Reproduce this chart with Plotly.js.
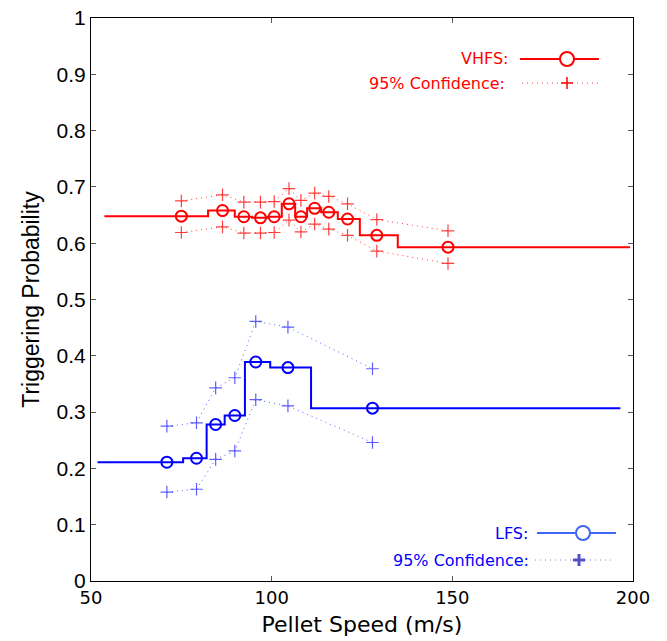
<!DOCTYPE html>
<html>
<head>
<meta charset="utf-8">
<script src="https://cdn.plot.ly/plotly-3.0.1.min.js"></script>
<style>html,body{margin:0;padding:0;background:#fff;}#chart{width:667px;height:641px;}</style>
</head>
<body>
<div id="chart"></div>
<script>
// VHFS data
const redEdges = [53.7, 82.4, 89.8, 94.6, 98.8, 102.8, 106.5, 109.8, 113.7, 118.3, 124.4, 134.9, 199.2];
const redProb  = [0.648, 0.658, 0.647, 0.645, 0.647, 0.670, 0.647, 0.662, 0.655, 0.643, 0.614, 0.593];
const redSpeed = [75.0, 86.4, 92.3, 96.9, 100.7, 104.8, 108.1, 111.9, 115.8, 121.0, 129.1, 148.8];
const redUpper = [0.675, 0.686, 0.673, 0.673, 0.674, 0.697, 0.676, 0.689, 0.683, 0.670, 0.642, 0.622];
const redLower = [0.619, 0.629, 0.618, 0.618, 0.619, 0.641, 0.620, 0.634, 0.625, 0.614, 0.586, 0.564];

// LFS data
const blueEdges = [51.8, 75.5, 82.0, 87.0, 92.6, 99.6, 110.9, 196.5];
const blueProb  = [0.211, 0.218, 0.278, 0.294, 0.389, 0.379, 0.307];
const blueSpeed = [71.0, 79.2, 84.5, 89.8, 95.6, 104.5, 127.9];
const blueUpper = [0.275, 0.281, 0.343, 0.361, 0.461, 0.451, 0.377];
const blueLower = [0.158, 0.163, 0.216, 0.231, 0.322, 0.311, 0.246];

const xTicks = [50, 100, 150, 200];
const yTicks = [0, 0.1, 0.2, 0.3, 0.4, 0.5, 0.6, 0.7, 0.8, 0.9, 1];

const RED = '#ff0000', BLUE = '#0000ff';
const RED_LIGHT = 'rgba(255,0,0,0.75)', BLUE_LIGHT = 'rgba(40,40,255,0.75)';
const DOTS = '1px,4px';

function stepY(vals){ return vals.concat([vals[vals.length-1]]); }

const traces = [];
function addSeries(edges, prob, speed, up, lo, col, light){
  traces.push({x: edges, y: stepY(prob), mode:'lines', line:{shape:'hv', color:col, width:2}, hoverinfo:'skip'});
  traces.push({x: speed, y: prob, mode:'markers', marker:{symbol:'circle-open', size:11, color:col, line:{width:2, color:col}}, hoverinfo:'skip'});
  [up, lo].forEach(arr => traces.push({x: speed, y: arr, mode:'lines+markers',
    line:{color:light, width:1, dash:DOTS},
    marker:{symbol:'cross-thin-open', size:9, color:light, line:{width:1.2, color:light}}, hoverinfo:'skip'}));
}
addSeries(redEdges, redProb, redSpeed, redUpper, redLower, RED, RED_LIGHT);
addSeries(blueEdges, blueProb, blueSpeed, blueUpper, blueLower, BLUE, BLUE_LIGHT);

// plot area in pixels
const L = 91, R = 633, T = 18, B = 581;
const px = x => (x - L) / (R - L);
const py = y => (B - y) / (B - T);

const shapes = [], annotations = [];
function legendEntry(text, textRight, yPix, x0, x1, mx, col, textCol, kind, mcol, mw){
  annotations.push({xref:'paper', yref:'paper', x:px(textRight), y:py(yPix), xanchor:'right', yanchor:'middle',
    text:text, showarrow:false, font:{family:'DejaVu Sans', size:16, color:textCol}});
  if (kind === 'circle') {
    shapes.push({type:'line', xref:'paper', yref:'paper', x0:px(x0), x1:px(x1), y0:py(yPix), y1:py(yPix), line:{color:col, width:2}});
    shapes.push({type:'circle', xref:'paper', yref:'paper', x0:px(mx-7), x1:px(mx+7), y0:py(yPix+7), y1:py(yPix-7), line:{color:mcol, width:2}, fillcolor:'#fff'});
  } else {
    shapes.push({type:'line', xref:'paper', yref:'paper', x0:px(x0), x1:px(x1), y0:py(yPix), y1:py(yPix), line:{color:col, width:1, dash:DOTS}});
    shapes.push({type:'line', xref:'paper', yref:'paper', x0:px(mx-6), x1:px(mx+6), y0:py(yPix), y1:py(yPix), line:{color:mcol, width:mw}});
    shapes.push({type:'line', xref:'paper', yref:'paper', x0:px(mx), x1:px(mx), y0:py(yPix-6), y1:py(yPix+6), line:{color:mcol, width:mw}});
  }
}
legendEntry('VHFS:', 510, 59, 520, 599, 567, RED, RED, 'circle', RED, 2);
legendEntry('95% Confidence:', 507, 83, 522, 600, 567, RED_LIGHT, RED, 'cross', RED, 1.5);
legendEntry('LFS:', 530, 533, 537, 616, 583, '#3f66f5', BLUE, 'circle', '#3f66f5', 2);
legendEntry('95% Confidence:', 531, 560, 535, 615, 579, 'rgba(60,90,240,0.7)', BLUE, 'cross', '#5050c8', 3);

const layout = {
  width: 667, height: 641,
  margin: {l: L, r: 667 - R, t: T, b: 641 - B},
  paper_bgcolor: '#fff', plot_bgcolor: '#fff',
  showlegend: false,
  xaxis: {range:[50, 200], tickvals: xTicks, ticktext: xTicks.map(String), ticks:'inside', ticklen:5, tickcolor:'#555',
    showline:true, linecolor:'#000', linewidth:1, mirror:'ticks', showgrid:false, zeroline:false,
    tickfont:{family:'DejaVu Sans', size:18, color:'#000'},
    title:{text:'Pellet Speed (m/s)', font:{family:'DejaVu Sans', size:22, color:'#000'}, standoff:10}},
  yaxis: {range:[0, 1], tickvals: yTicks, ticktext: yTicks.map(String), ticks:'inside', ticklen:5, tickcolor:'#555',
    showline:true, linecolor:'#000', linewidth:1, mirror:'ticks', showgrid:false, zeroline:false,
    tickfont:{family:'Liberation Sans', size:21, color:'#000'},
    title:{text:'Triggering Probability', font:{family:'Liberation Sans', size:23, color:'#000'}, standoff:10}},
  shapes: shapes, annotations: annotations
};
Plotly.newPlot('chart', traces, layout, {staticPlot:true, displayModeBar:false});
</script>
</body>
</html>
